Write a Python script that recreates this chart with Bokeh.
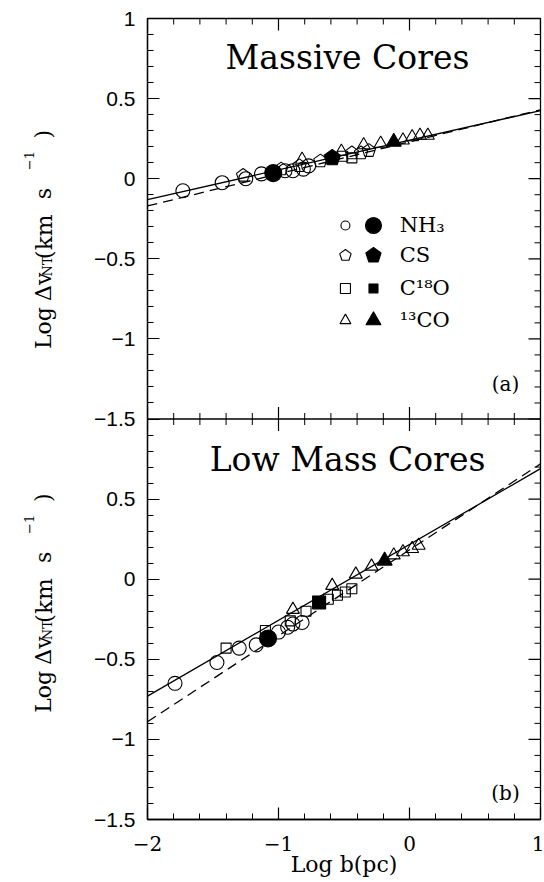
import numpy as np
from bokeh.plotting import figure
from bokeh.layouts import row
from bokeh.models import Range1d, LinearAxis, FixedTicker, Label
from bokeh.embed import file_html
from bokeh.resources import INLINE

# ---------------- data ----------------
# Panel (a): Massive Cores
A_NH3_OPEN_X = [-1.73, -1.43, -1.25, -1.13, -0.95, -0.89, -0.81, -0.77]
A_NH3_OPEN_Y = [-0.075, -0.025, 0.00, 0.03, 0.05, 0.05, 0.06, 0.08]
A_NH3_FILL_X = [-1.04]
A_NH3_FILL_Y = [0.035]
A_CS_OPEN_X = [-1.27, -0.98, -0.84, -0.68, -0.44, -0.37, -0.31]
A_CS_OPEN_Y = [0.02, 0.06, 0.08, 0.11, 0.16, 0.16, 0.175]
A_CS_FILL_X = [-0.59]
A_CS_FILL_Y = [0.13]
A_C18O_OPEN_X = [-0.51, -0.44]
A_C18O_OPEN_Y = [0.14, 0.13]
A_13CO_OPEN_X = [-0.82, -0.52, -0.35, -0.22, -0.05, 0.02, 0.08, 0.14]
A_13CO_OPEN_Y = [0.12, 0.17, 0.21, 0.22, 0.24, 0.26, 0.27, 0.27]
A_13CO_FILL_X = [-0.12]
A_13CO_FILL_Y = [0.23]

# Panel (b): Low Mass Cores
B_NH3_OPEN_X = [-1.79, -1.47, -1.30, -1.17, -1.00, -0.93, -0.89, -0.82]
B_NH3_OPEN_Y = [-0.65, -0.52, -0.43, -0.41, -0.33, -0.30, -0.28, -0.27]
B_NH3_FILL_X = [-1.08]
B_NH3_FILL_Y = [-0.37]
B_C18O_OPEN_X = [-1.40, -1.10, -0.91, -0.79, -0.62, -0.55, -0.49, -0.44]
B_C18O_OPEN_Y = [-0.43, -0.32, -0.26, -0.20, -0.125, -0.10, -0.08, -0.06]
B_C18O_FILL_X = [-0.69]
B_C18O_FILL_Y = [-0.145]
B_13CO_OPEN_X = [-0.89, -0.59, -0.41, -0.29, -0.12, -0.05, 0.02, 0.07]
B_13CO_OPEN_Y = [-0.19, -0.04, 0.03, 0.08, 0.15, 0.17, 0.19, 0.21]
B_13CO_FILL_X = [-0.19]
B_13CO_FILL_Y = [0.115]

# fitted lines (end points)
FIT_X = [-2, 1]
A_SOLID_Y = [-0.13, 0.425]
A_DASH_Y = [-0.17, 0.43]
B_SOLID_Y = [-0.73, 0.69]
B_DASH_Y = [-0.89, 0.72]

X_TICKS = [-2, -1, 0, 1]
Y_TICKS = [-1.5, -1, -0.5, 0, 0.5, 1]
LEGEND_LABELS = ["NH\u2083", "CS", "C\u00b9\u2078O", "\u00b9\u00b3CO"]

# ---------------- layout ----------------
W, H = 544, 882
LW = 60                       # strip holding the y-axis titles
ML, MR, MT, MB = 147, 4, 18, 63
FW, FH = W - ML - MR, H - MT - MB
XR = (-2, 1)
YR_A = (-4, 1)          # panel (a) occupies the upper half
YR_B = (-1.5, 3.5)      # panel (b) occupies the lower half
SHIFT = 2.5             # offset between the two y ranges
SX = FW / (XR[1] - XR[0])
SY = FH / (YR_A[1] - YR_A[0])

SERIF = "DejaVu Serif"
SANS = "Liberation Sans"

p = figure(width=W - LW, height=H, x_range=Range1d(*XR), y_range=Range1d(*YR_A),
           output_backend="svg", toolbar_location=None,
           x_axis_location=None, y_axis_location=None,
           min_border_left=ML - LW, min_border_right=MR,
           min_border_top=MT, min_border_bottom=MB)
p.extra_y_ranges = {"b": Range1d(*YR_B)}
p.xgrid.visible = False
p.ygrid.visible = False
p.outline_line_color = "black"
p.outline_line_width = 1.3
p.background_fill_color = "white"
p.border_fill_color = "white"

minor_x = [round(v, 2) for v in np.arange(-2, 1.001, 0.2)]
minor_x_only = [v for v in minor_x if v not in X_TICKS]
major_y = Y_TICKS + [t - SHIFT for t in Y_TICKS if t < 1]
minor_y = [round(v, 2) for v in np.arange(-4, 1.001, 0.1)]
minor_y_only = [v for v in minor_y if min(abs(v - m) for m in major_y) > 1e-6]


def style_axis(ax):
    ax.axis_line_color = "black"
    ax.axis_line_width = 1.3
    ax.major_tick_line_color = "black"
    ax.minor_tick_line_color = "black"
    ax.major_tick_line_width = 1.2
    ax.minor_tick_line_width = 1.0
    ax.major_tick_in = 12
    ax.major_tick_out = 0
    ax.minor_tick_in = 6
    ax.minor_tick_out = 0


# bottom x axis with labels and title
xb = LinearAxis(ticker=FixedTicker(ticks=X_TICKS, minor_ticks=minor_x))
style_axis(xb)
xb.major_label_standoff = 16
xb.major_label_text_font = SERIF
xb.major_label_text_font_size = "20px"
xb.major_label_text_color = "black"
xb.major_label_overrides = {t: (str(t).replace("-", "\u2212")) for t in X_TICKS}
xb.axis_label = "Log b(pc)"
xb.axis_label_text_font = SERIF
xb.axis_label_text_font_size = "22px"
xb.axis_label_text_font_style = "normal"
xb.axis_label_text_color = "black"
xb.axis_label_standoff = -2
p.add_layout(xb, "below")


def fmt(v):
    return ("%g" % v).replace("-", "\u2212")


overrides = {t: fmt(t) for t in Y_TICKS}
for t in Y_TICKS:
    if t < 1:
        overrides[t - SHIFT] = fmt(t)
yl = LinearAxis(ticker=FixedTicker(ticks=major_y, minor_ticks=minor_y))
style_axis(yl)
yl.major_label_standoff = 12
yl.major_label_text_font = SANS
yl.major_label_text_font_size = "21px"
yl.major_label_text_color = "black"
yl.major_label_overrides = overrides
p.add_layout(yl, "left")

# inward ticks on the top and right frame edges (half of each dash is clipped
# by the frame) and crossing ticks on the boundary shared by the two panels
TICK_MAJ, TICK_MIN = 24, 12
for yy in (YR_A[1], Y_TICKS[0]):
    p.scatter(x=minor_x_only, y=yy, marker="dash", angle=np.pi / 2, size=TICK_MIN,
              line_color="black", line_width=1.0)
    p.scatter(x=X_TICKS, y=yy, marker="dash", angle=np.pi / 2, size=TICK_MAJ,
              line_color="black", line_width=1.2)
p.scatter(x=XR[1], y=minor_y_only, marker="dash", size=TICK_MIN, line_color="black",
          line_width=1.0)
p.scatter(x=XR[1], y=major_y, marker="dash", size=TICK_MAJ, line_color="black",
          line_width=1.2)
p.line(x=list(XR), y=[Y_TICKS[0], Y_TICKS[0]], line_color="black", line_width=1.3)

# fitted lines
p.line(FIT_X, A_SOLID_Y, line_color="black", line_width=1.3)
p.line(FIT_X, A_DASH_Y, line_color="black", line_width=1.3, line_dash="10 6")
p.line(FIT_X, B_SOLID_Y, line_color="black", line_width=1.3, y_range_name="b")
p.line(FIT_X, B_DASH_Y, line_color="black", line_width=1.3, line_dash="10 6",
       y_range_name="b")


def pentagons(x, y, r, filled, rng="default"):
    ang = np.pi / 2 + np.arange(5) * 2 * np.pi / 5
    xs = [list(xi + r * np.cos(ang) / SX) for xi in x]
    ys = [list(yi + r * np.sin(ang) / SY) for yi in y]
    p.patches(xs, ys, fill_color="black" if filled else None, line_color="black",
              line_width=1.1, y_range_name=rng)


def markers(x, y, marker, size, filled, rng="default"):
    if len(x) == 0:
        return
    p.scatter(x, y, marker=marker, size=size, line_color="black", line_width=1.1,
              fill_color="black" if filled else None, y_range_name=rng)


# panel (a)
markers(A_NH3_OPEN_X, A_NH3_OPEN_Y, "circle", 14, False)
pentagons(A_CS_OPEN_X, A_CS_OPEN_Y, 7, False)
markers(A_C18O_OPEN_X, A_C18O_OPEN_Y, "square", 10, False)
markers(A_13CO_OPEN_X, A_13CO_OPEN_Y, "triangle", 13, False)
markers(A_NH3_FILL_X, A_NH3_FILL_Y, "circle", 17, True)
pentagons(A_CS_FILL_X, A_CS_FILL_Y, 8.5, True)
markers(A_13CO_FILL_X, A_13CO_FILL_Y, "triangle", 15, True)

# panel (b)
markers(B_NH3_OPEN_X, B_NH3_OPEN_Y, "circle", 14, False, "b")
markers(B_C18O_OPEN_X, B_C18O_OPEN_Y, "square", 10, False, "b")
markers(B_13CO_OPEN_X, B_13CO_OPEN_Y, "triangle", 13, False, "b")
markers(B_NH3_FILL_X, B_NH3_FILL_Y, "circle", 17, True, "b")
markers(B_C18O_FILL_X, B_C18O_FILL_Y, "square", 13, True, "b")
markers(B_13CO_FILL_X, B_13CO_FILL_Y, "triangle", 15, True, "b")

# legend (inside panel a)
LEG_OPEN_X, LEG_FILL_X, LEG_TEXT_X = -0.489, -0.275, -0.075
LEG_ROWS = [-0.292, -0.479, -0.685, -0.885]
markers([LEG_OPEN_X], [LEG_ROWS[0]], "circle", 9, False)
markers([LEG_FILL_X], [LEG_ROWS[0]], "circle", 16, True)
pentagons([LEG_OPEN_X], [LEG_ROWS[1]], 6, False)
pentagons([LEG_FILL_X], [LEG_ROWS[1]], 8, True)
markers([LEG_OPEN_X], [LEG_ROWS[2]], "square", 10, False)
markers([LEG_FILL_X], [LEG_ROWS[2]], "square", 9, True)
markers([LEG_OPEN_X], [LEG_ROWS[3]], "triangle", 11, False)
markers([LEG_FILL_X], [LEG_ROWS[3]], "triangle", 15, True)
for lab, yy in zip(LEGEND_LABELS, LEG_ROWS):
    p.add_layout(Label(x=LEG_TEXT_X, y=yy, text=lab, text_baseline="middle",
                       text_align="left", text_font=SERIF, text_font_size="21px",
                       text_color="black"))

# panel titles and tags
p.add_layout(Label(x=200, y=FH - 39, x_units="screen", y_units="screen",
                   text="Massive Cores", text_align="center", text_baseline="alphabetic",
                   text_font=SERIF, text_font_size="33px", text_color="black"))
p.add_layout(Label(x=200, y=FH / 2 - 40, x_units="screen", y_units="screen",
                   text="Low Mass Cores", text_align="center", text_baseline="alphabetic",
                   text_font=SERIF, text_font_size="33px", text_color="black"))
p.add_layout(Label(x=FW - 35, y=FH / 2 + 35, x_units="screen", y_units="screen",
                   text="(a)", text_align="center", text_baseline="middle",
                   text_font=SERIF, text_font_size="20px", text_color="black"))
p.add_layout(Label(x=FW - 35, y=27, x_units="screen", y_units="screen",
                   text="(b)", text_align="center", text_baseline="middle",
                   text_font=SERIF, text_font_size="20px", text_color="black"))

# strip with the two rotated y-axis titles (built from pieces for sub/superscripts)
ly = figure(width=LW, height=H, x_range=Range1d(0, LW), y_range=Range1d(0, H),
            output_backend="svg", toolbar_location=None,
            x_axis_location=None, y_axis_location=None,
            min_border_left=0, min_border_right=0, min_border_top=0, min_border_bottom=0)
ly.xgrid.visible = False
ly.ygrid.visible = False
ly.outline_line_color = None
ly.background_fill_color = "white"
ly.border_fill_color = "white"
BASE_X = 43
PIECES = [  # (text, distance of the piece start below panel top, dx, font size)
    ("Log", 346, 0, "22px"),
    ("\u0394v", 293, 0, "22px"),
    ("NT", 266, 4, "13px"),
    ("(km", 247, 0, "23px"),
    ("s", 181, 0, "22px"),
    ("\u22121", 149, -15, "13px"),
    (")", 114, 0, "22px"),
]
for panel_top in (MT, MT + FH / 2):
    for txt, off, dx, fs in PIECES:
        ly.add_layout(Label(x=BASE_X + dx, y=H - (panel_top + off), text=txt,
                            angle=np.pi / 2, text_align="left",
                            text_baseline="alphabetic", text_font=SERIF,
                            text_font_size=fs, text_color="black"))

layout = row(ly, p, spacing=0)
open("out.html", "w").write(file_html(layout, INLINE))
